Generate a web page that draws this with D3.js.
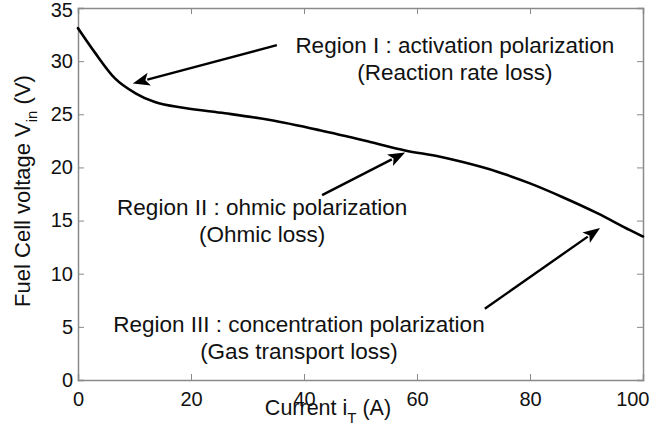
<!DOCTYPE html>
<html>
<head>
<meta charset="utf-8">
<script src="https://cdn.jsdelivr.net/npm/d3@7"></script>
<style>
  html, body { margin: 0; padding: 0; background: #fff; }
  svg { display: block; font-family: "Liberation Sans", Arial, Helvetica, sans-serif; }
</style>
</head>
<body>
<svg id="chart" width="653" height="429"></svg>
<script>
// Polarization curve of the fuel cell stack: current (A) vs. voltage (V)
const current = [0, 3.0, 6.5, 10.1, 13.6, 18.9, 26.0, 34.0, 42.8, 51.7, 57.9, 64.1, 68.1, 74.2, 80.0, 85.8, 91.9, 97.7, 100];
const voltage = [33.1, 30.8, 28.4, 27.0, 26.15, 25.6, 25.1, 24.46, 23.5, 22.4, 21.6, 21.0, 20.5, 19.6, 18.5, 17.2, 15.7, 14.1, 13.5];

const xTicks = [0, 20, 40, 60, 80, 100];
const yTicks = [0, 5, 10, 15, 20, 25, 30, 35];

// Region annotations: two text lines, anchor (data units) and arrow from/to (data units)
const regionLines = [
  ["Region I : activation polarization", "(Reaction rate loss)"],
  ["Region II : ohmic polarization", "(Ohmic loss)"],
  ["Region III : concentration polarization", "(Gas transport loss)"]
];
const regionTextAt = [[66.7, 30.76], [32.6, 15.5], [39.1, 4.5]];
const arrowFrom = [[35.2, 31.5], [43.2, 17.4], [72.0, 6.7]];
const arrowTo = [[9.7, 27.9], [57.9, 21.4], [92.4, 14.3]];

const svg = d3.select("#chart");
const margin = { left: 78, top: 8, right: 10, bottom: 49 };
const W = 653, H = 429;
const x = d3.scaleLinear().domain([0, 100]).range([margin.left, W - margin.right]);
const y = d3.scaleLinear().domain([0, 35]).range([H - margin.bottom, margin.top]);

const axisColor = "#8a8a8a";
const tickLen = 6;

// Box axes with inward ticks on all four sides
const gAx = svg.append("g");
const axBottom = gAx.append("g").attr("transform", `translate(0,${y(0)})`)
  .call(d3.axisBottom(x).tickValues(xTicks).tickSize(-tickLen).tickPadding(12).tickFormat(d3.format("d")));
const axTop = gAx.append("g").attr("transform", `translate(0,${y(35)})`)
  .call(d3.axisTop(x).tickValues(xTicks).tickSize(-tickLen).tickFormat(""));
const axLeft = gAx.append("g").attr("transform", `translate(${x(0)},0)`)
  .call(d3.axisLeft(y).tickValues(yTicks).tickSize(-tickLen).tickPadding(5).tickFormat(d3.format("d")));
const axRight = gAx.append("g").attr("transform", `translate(${x(100)},0)`)
  .call(d3.axisRight(y).tickValues(yTicks).tickSize(-tickLen).tickFormat(""));

[axBottom, axTop, axLeft, axRight].forEach(g => {
  g.select(".domain").attr("stroke", axisColor).attr("stroke-width", 1.5);
  g.selectAll(".tick line").attr("stroke", axisColor).attr("stroke-width", 1);
  g.selectAll(".tick text").attr("fill", "#111").attr("font-size", 20)
    .attr("font-family", "'Liberation Sans', Arial, sans-serif");
});
// keep outer tick stubs off the box lines
[axTop, axBottom].forEach(g => g.selectAll(".tick").filter(d => d === 0 || d === 100).select("line").remove());
[axLeft, axRight].forEach(g => g.selectAll(".tick").filter(d => d === 0 || d === 35).select("line").remove());
// last x label pulled inside the page edge, top y label nudged down
axBottom.selectAll(".tick").filter(d => d === 100).select("text").attr("text-anchor", "end").attr("dx", 6);
axLeft.selectAll(".tick").filter(d => d === 35).select("text").attr("dy", "0.42em");

// Curve
const line = d3.line().x((d, i) => x(current[i])).y(d => y(d)).curve(d3.curveMonotoneX);
svg.append("path").datum(voltage)
  .attr("d", line)
  .attr("fill", "none").attr("stroke", "#000").attr("stroke-width", 2.6)
  .attr("stroke-linejoin", "round").attr("stroke-linecap", "round");

// Arrows
const headLen = 17, headHalf = 6.5;
arrowFrom.forEach((f, i) => {
  const x0 = x(f[0]), y0 = y(f[1]);
  const x1 = x(arrowTo[i][0]), y1 = y(arrowTo[i][1]);
  const dx = x1 - x0, dy = y1 - y0, L = Math.hypot(dx, dy);
  const ux = dx / L, uy = dy / L;
  const bx = x1 - ux * headLen, by = y1 - uy * headLen;
  svg.append("line")
    .attr("x1", x0).attr("y1", y0).attr("x2", bx + ux * 2).attr("y2", by + uy * 2)
    .attr("stroke", "#000").attr("stroke-width", 2.4);
  svg.append("path")
    .attr("d", `M${x1},${y1}L${bx - uy * headHalf},${by + ux * headHalf}L${bx + ux * 4},${by + uy * 4}L${bx + uy * headHalf},${by - ux * headHalf}Z`)
    .attr("fill", "#000");
});

// Annotation text
regionLines.forEach((lines, i) => {
  const t = svg.append("text")
    .attr("x", x(regionTextAt[i][0])).attr("y", y(regionTextAt[i][1]))
    .attr("text-anchor", "middle").attr("font-size", 22.5).attr("fill", "#111");
  lines.forEach((s, k) => {
    t.append("tspan").attr("x", x(regionTextAt[i][0])).attr("dy", k === 0 ? 0 : 27).text(s);
  });
});

// X axis label (sits on the tick labels, as in the original figure)
const xl = svg.append("text")
  .attr("x", 328).attr("y", 415).attr("text-anchor", "middle")
  .attr("font-size", 21.5).attr("fill", "#111");
xl.append("tspan").text("Current i");
xl.append("tspan").attr("font-size", 15).attr("dy", 8).text("T");
xl.append("tspan").attr("dy", -8).text(" (A)");

// Y axis label
const yl = svg.append("text")
  .attr("transform", "translate(30,191) rotate(-90)")
  .attr("text-anchor", "middle").attr("font-size", 22).attr("fill", "#111");
yl.append("tspan").text("Fuel Cell voltage V");
yl.append("tspan").attr("font-size", 15).attr("dy", 7).text("in");
yl.append("tspan").attr("dy", -7).text(" (V)");
</script>
</body>
</html>
